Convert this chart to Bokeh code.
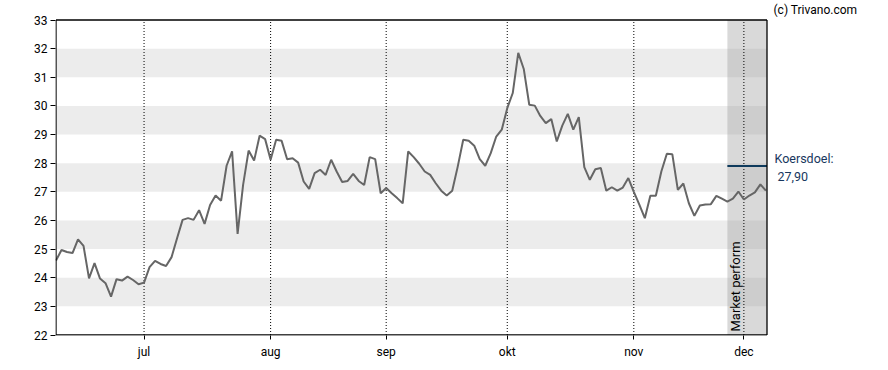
import math
import pandas as pd
from bokeh.plotting import figure
from bokeh.models import Range1d, FixedTicker, Span, Label, ColumnDataSource
from bokeh.embed import file_html
from bokeh.resources import INLINE

# ---------------- data ----------------
start_date = "2025-06-09"
end_date = "2025-12-05"
prices = [
    24.60, 24.97, 24.90, 24.86, 25.34, 25.11, 23.98, 24.51, 23.97, 23.81,
    23.34, 23.95, 23.90, 24.04, 23.92, 23.77, 23.83, 24.37, 24.59, 24.48,
    24.41, 24.72, 25.38, 26.02, 26.08, 26.02, 26.36, 25.88, 26.54, 26.87,
    26.69, 27.91, 28.41, 25.53, 27.24, 28.44, 28.09, 28.96, 28.84, 28.12,
    28.82, 28.78, 28.14, 28.17, 28.02, 27.36, 27.10, 27.65, 27.77, 27.59,
    28.12, 27.71, 27.34, 27.38, 27.63, 27.38, 27.24, 28.21, 28.14, 26.95,
    27.13, 26.95, 26.78, 26.60, 28.41, 28.21, 27.98, 27.71, 27.59, 27.30,
    27.04, 26.87, 27.04, 27.88, 28.82, 28.78, 28.61, 28.14, 27.91, 28.35,
    28.93, 29.17, 29.92, 30.45, 31.85, 31.29, 30.04, 30.01, 29.65, 29.40,
    29.54, 28.76, 29.31, 29.72, 29.17, 29.61, 27.86, 27.42, 27.79, 27.83,
    27.04, 27.16, 27.04, 27.15, 27.48, 27.00, 26.55, 26.08, 26.86, 26.86,
    27.71, 28.33, 28.31, 27.07, 27.29, 26.60, 26.16, 26.52, 26.56, 26.57,
    26.86, 26.76, 26.66, 26.76, 27.01, 26.73, 26.87, 26.98, 27.26, 27.04,
]
month_labels = ["jul", "aug", "sep", "okt", "nov", "dec"]
y_ticks = [22, 23, 24, 25, 26, 27, 28, 29, 30, 31, 32, 33]
rating_start = "2025-11-26"
rating_text = "Market perform"
target_price = 27.90
target_label = "27,90"
target_title = "Koersdoel:"
credit = "(c) Trivano.com"

# ---------------- derived ----------------
dates = pd.bdate_range(start_date, end_date)
n = min(len(dates), len(prices))
dates = dates[:n]
xs = list(range(n))

month_idx = []
for i in range(1, n):
    if dates[i].month != dates[i - 1].month:
        month_idx.append(i)
month_idx = month_idx[:len(month_labels)]
rs_idx = int(dates.get_indexer([pd.Timestamp(rating_start)])[0])
x_end = n - 1 + 0.2
y0, y1 = y_ticks[0], y_ticks[-1]

# layout in pixels: chart box 55..766 x 20..335 inside an 888x370 canvas
W, H = 888, 370
BL, BB = 55, 35
box_r, box_t = 766, 20
px_per_x = (box_r - BL) / x_end
px_per_y = (H - BB - box_t) / (y1 - y0)
xr0 = -0.5 / px_per_x
xr1 = xr0 + (W - BL) / px_per_x
yr0 = y0 - 0.5 / px_per_y
yr1 = yr0 + (H - BB) / px_per_y

def xdat(px):
    return xr0 + (px - BL) / px_per_x

def ydat(py):
    return yr0 + (H - BB - py) / px_per_y

FONT = "Roboto"

p = figure(width=W, height=H, output_backend="svg", toolbar_location=None,
           x_range=Range1d(xr0, xr1), y_range=Range1d(yr0, yr1),
           min_border_left=BL, min_border_right=0, min_border_top=0,
           min_border_bottom=BB)
p.background_fill_color = "white"
p.border_fill_color = "white"
p.outline_line_color = None
p.xgrid.visible = False
p.ygrid.visible = False

# alternating bands
band_bottoms = y_ticks[1:-1:2]
p.quad(left=[0] * len(band_bottoms), right=[x_end] * len(band_bottoms),
       bottom=band_bottoms, top=[b + 1 for b in band_bottoms],
       fill_color="#ececec", line_color=None)

# rating shade
p.quad(left=[rs_idx], right=[x_end], bottom=[y0], top=[y1],
       fill_color="#a0a0a0", fill_alpha=0.4, line_color=None)

# month dotted lines
p.segment(x0=month_idx, x1=month_idx, y0=[y0] * len(month_idx),
          y1=[y1] * len(month_idx), line_color="black", line_width=1,
          line_dash="1 2")

# price line
src = ColumnDataSource(dict(x=xs, y=prices[:n]))
p.line("x", "y", source=src, line_color="#666666", line_width=2)

# target line
p.segment(x0=[rs_idx], x1=[x_end], y0=[target_price], y1=[target_price],
          line_color="#0e3a5c", line_width=2)

# chart box
p.segment(x0=[0, 0, 0, x_end], x1=[x_end, x_end, 0, x_end],
          y0=[y0, y1, y0, y0], y1=[y0, y1, y1, y1],
          line_color="black", line_width=1.3)

# axes
p.yaxis.ticker = FixedTicker(ticks=y_ticks)
p.yaxis.minor_tick_line_color = None
p.yaxis.major_tick_out = 5
p.yaxis.major_tick_in = 0
p.yaxis.major_label_standoff = 3
p.yaxis.major_label_text_font = FONT
p.yaxis.major_label_text_font_size = "12px"
p.yaxis.major_label_text_color = "black"
p.yaxis.axis_line_color = None

p.xaxis.ticker = FixedTicker(ticks=month_idx)
p.xaxis.major_label_overrides = {m: lab for m, lab in zip(month_idx, month_labels)}
p.xaxis.minor_tick_line_color = None
p.xaxis.major_tick_out = 4
p.xaxis.major_tick_in = 0
p.xaxis.major_label_standoff = 5
p.xaxis.major_label_text_font = FONT
p.xaxis.major_label_text_font_size = "12px"
p.xaxis.major_label_text_color = "black"
p.xaxis.axis_line_color = None

# texts
p.add_layout(Label(x=xdat(773), y=ydat(9), text=credit, text_font=FONT,
                   text_font_size="12px", text_color="black",
                   text_baseline="middle", text_align="left"))
p.add_layout(Label(x=xdat(774), y=ydat(158), text=target_title, text_font=FONT,
                   text_font_size="12.5px", text_color="#17375e",
                   text_baseline="middle", text_align="left"))
p.add_layout(Label(x=xdat(777), y=ydat(176), text=target_label, text_font=FONT,
                   text_font_size="12.5px", text_color="#17375e",
                   text_baseline="middle", text_align="left"))
p.add_layout(Label(x=xdat(735), y=ydat(331), text=rating_text, text_font=FONT,
                   text_font_size="13px", text_color="black", angle=math.pi / 2,
                   text_baseline="middle", text_align="left"))

open("out.html", "w").write(file_html(p, INLINE))
